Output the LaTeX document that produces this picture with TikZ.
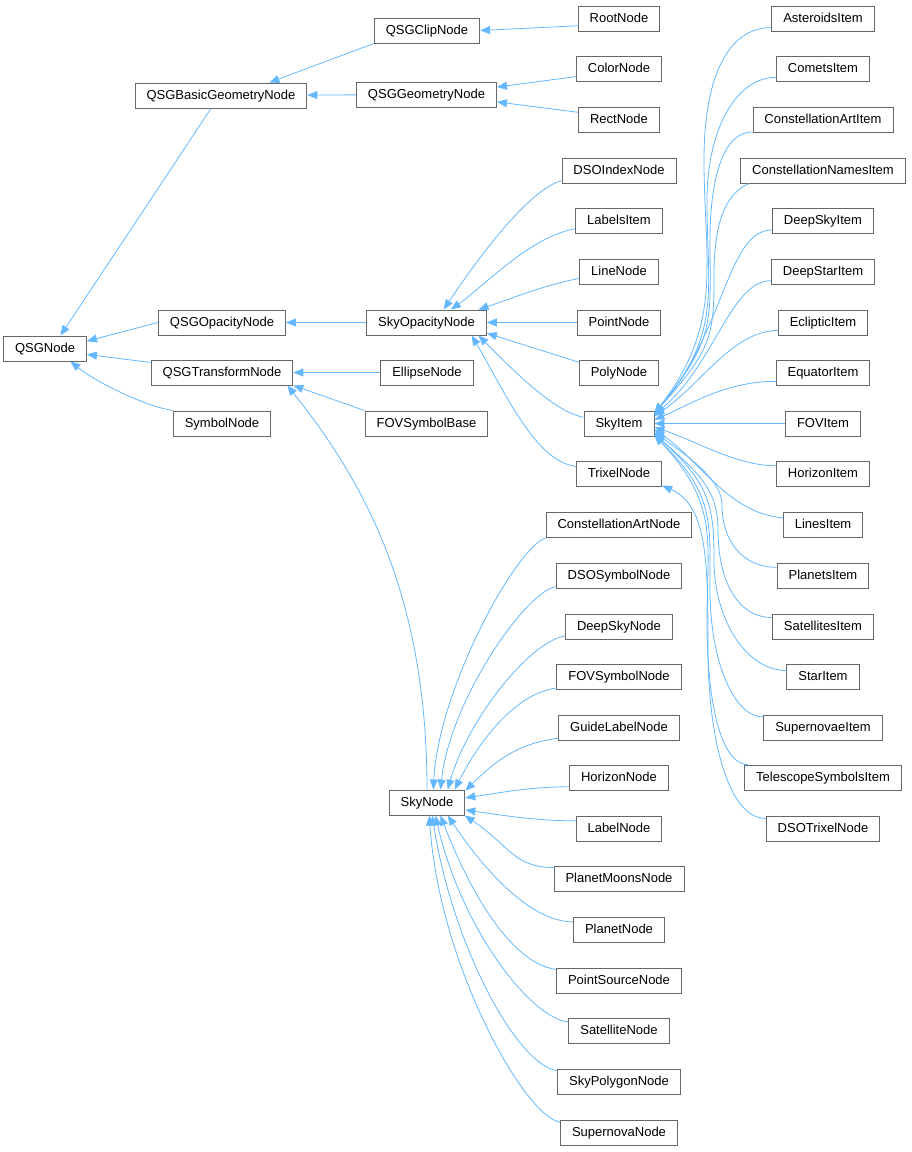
\documentclass[tikz,border=0pt]{standalone}
\usepackage{fontspec}
\setmainfont{Liberation Sans}
\usetikzlibrary{arrows.meta}
\definecolor{edgeblue}{HTML}{63B8FF}
\definecolor{boxgray}{HTML}{666666}
\tikzset{
    %Define standard arrow tip
    >={Triangle[length=10pt,width=8pt]},
    %Define style for class boxes
    klasse/.style={
           rectangle,
           draw=boxgray, line width=0.9pt,
           minimum height=25pt,
           inner xsep=11.5pt,
           text height=9.5pt, text depth=2pt,
           font=\fontsize{13}{15}\selectfont,
           text centered},
    % Define arrow style
    arv/.style={
           ->,
           draw=edgeblue,
           line width=0.8pt}
}
\begin{document}
\begin{tikzpicture}[x=1pt,y=-1pt]
\useasboundingbox (0,0) rectangle (911,1152);

 %nodes
\node[klasse] (qsg) at (45,348.5) {QSGNode};
\node[klasse] (bgn) at (221,95.5) {QSGBasicGeometryNode};
\node[klasse] (clip) at (427,30.5) {QSGClipNode};
\node[klasse] (qgeo) at (426.5,94.5) {QSGGeometryNode};
\node[klasse] (qop) at (222,322.5) {QSGOpacityNode};
\node[klasse] (qtr) at (222,372.5) {QSGTransformNode};
\node[klasse] (symn) at (222,423.5) {SymbolNode};
\node[klasse] (skyop) at (426.5,322.5) {SkyOpacityNode};
\node[klasse] (ellipse) at (427,372.5) {EllipseNode};
\node[klasse] (fovb) at (426.5,423.5) {FOVSymbolBase};
\node[klasse] (skyn) at (427,802.5) {SkyNode};

\node[klasse] (root) at (619,18.5) {RootNode};
\node[klasse] (colorn) at (619,69) {ColorNode};
\node[klasse] (rectn) at (619,119.5) {RectNode};
\node[klasse] (dsoi) at (619,170.5) {DSOIndexNode};
\node[klasse] (labelsi) at (619,221) {LabelsItem};
\node[klasse] (linen) at (619,271.5) {LineNode};
\node[klasse] (pointn) at (619,322.5) {PointNode};
\node[klasse] (polyn) at (619,373) {PolyNode};
\node[klasse] (skyi) at (619,423.5) {SkyItem};
\node[klasse] (trixel) at (619,474) {TrixelNode};
\node[klasse] (csan) at (619,525) {ConstellationArtNode};
\node[klasse] (dsosym) at (619,575.5) {DSOSymbolNode};
\node[klasse] (deepskyn) at (619,626.5) {DeepSkyNode};
\node[klasse] (fovsymn) at (619,677) {FOVSymbolNode};
\node[klasse] (guiden) at (619,727.5) {GuideLabelNode};
\node[klasse] (horn) at (619,778) {HorizonNode};
\node[klasse] (labeln) at (619,828.5) {LabelNode};
\node[klasse] (pmoons) at (619,879) {PlanetMoonsNode};
\node[klasse] (planetn) at (619,930) {PlanetNode};
\node[klasse] (psrc) at (619,980.5) {PointSourceNode};
\node[klasse] (satn) at (619,1031) {SatelliteNode};
\node[klasse] (skypoly) at (619,1081.5) {SkyPolygonNode};
\node[klasse] (supernovan) at (619,1132.5) {SupernovaNode};

\node[klasse] (ast) at (823,18.5) {AsteroidsItem};
\node[klasse] (comets) at (823,69) {CometsItem};
\node[klasse] (cart) at (823,119.5) {ConstellationArtItem};
\node[klasse] (cnam) at (823,170.5) {ConstellationNamesItem};
\node[klasse] (dsky) at (823,221) {DeepSkyItem};
\node[klasse] (dstar) at (823,271.5) {DeepStarItem};
\node[klasse] (ecl) at (823,322.5) {EclipticItem};
\node[klasse] (equ) at (823,373) {EquatorItem};
\node[klasse] (fovi) at (823,423.5) {FOVItem};
\node[klasse] (hori) at (823,474) {HorizonItem};
\node[klasse] (linesi) at (823,525) {LinesItem};
\node[klasse] (planeti) at (823,575.5) {PlanetsItem};
\node[klasse] (sati) at (823,626.5) {SatellitesItem};
\node[klasse] (stari) at (823,677) {StarItem};
\node[klasse] (supni) at (823,727.5) {SupernovaeItem};
\node[klasse] (teli) at (823,778) {TelescopeSymbolsItem};
\node[klasse] (dsotrix) at (823,828.5) {DSOTrixelNode};

 %straight edges
\path[every edge/.style=arv]
    ([xshift=-10pt]bgn.south) edge (qsg.40)
    (clip.south west) edge (bgn.15)
    (qgeo) edge (bgn)
    (root.190) edge (clip.east)
    (colorn.190) edge (qgeo.6)
    (rectn.170) edge (qgeo.-6)
    (qop.west) edge (qsg.10)
    (qtr.172) edge (qsg.-8)
    (skyop) edge (qop)
    (ellipse) edge (qtr)
    (fovb.north west) edge (qtr.south east)
    (pointn) edge (skyop)
    (polyn.165) edge (skyop.-10)
    (fovi) edge (skyi);

 %curved edges
\draw[arv] (symn.north west) .. controls +(-30,-5) and +(25,20) .. (qsg.-27);
\draw[arv] (skyn.north) .. controls +(0,-190) and +(80,100) .. ([xshift=-6pt]qtr.south east);

\draw[arv] (dsoi.190) .. controls +(-35,10) and +(30,-45) .. (skyop.37);
\draw[arv] (labelsi.190) .. controls +(-45,8) and +(35,-25) .. (skyop.28);
\draw[arv] (linen.190) .. controls +(-30,5) and +(30,-10) .. (skyop.14);
\draw[arv] (skyi.170) .. controls +(-30,-5) and +(30,30) .. (skyop.-14);
\draw[arv] (trixel.170) .. controls +(-40,-5) and +(35,60) .. (skyop.-16);

\draw[arv] (ast.190) .. controls +(-45,0) and +(0,-80) .. (704,160)
    .. controls +(0,100) and +(70,-90) .. (skyi.16);
\draw[arv] (comets.190) .. controls +(-40,0) and +(0,-70) .. (707,200)
    .. controls +(0,90) and +(68,-80) .. (skyi.16);
\draw[arv] (cart.190) .. controls +(-30,0) and +(0,-60) .. (710,240)
    .. controls +(0,80) and +(62,-75) .. (skyi.16);
\draw[arv] (cnam.190) .. controls +(-25,10) and +(0,-50) .. (714,275)
    .. controls +(0,60) and +(58,-65) .. (skyi.16);
\draw[arv] (dsky.190) .. controls +(-45,0) and +(70,-80) .. (skyi.16);
\draw[arv] (dstar.190) .. controls +(-40,0) and +(60,-50) .. (skyi.14);
\draw[arv] (ecl.190) .. controls +(-45,0) and +(45,-30) .. (skyi.12);
\draw[arv] (equ.190) .. controls +(-50,0) and +(35,-15) .. (skyi.6);

\draw[arv] (hori.170) .. controls +(-40,0) and +(45,15) .. (skyi.-6);
\draw[arv] (linesi.170) .. controls +(-55,-5) and +(45,30) .. (skyi.-10);
\draw[arv] (planeti.170) .. controls +(-35,0) and +(0,35) .. (722,505)
    .. controls +(0,-25) and +(35,25) .. (skyi.-14);
\draw[arv] (sati.170) .. controls +(-35,0) and +(0,50) .. (718,530)
    .. controls +(0,-40) and +(45,40) .. (skyi.-16);
\draw[arv] (stari.170) .. controls +(-40,0) and +(0,60) .. (714,560)
    .. controls +(0,-55) and +(55,50) .. (skyi.-16);
\draw[arv] (supni.170) .. controls +(-30,0) and +(0,70) .. (710,590)
    .. controls +(0,-70) and +(60,60) .. (skyi.-18);
\draw[arv] (teli.170) .. controls +(-30,0) and +(0,80) .. (707,620)
    .. controls +(0,-80) and +(65,70) .. (skyi.-18);
\draw[arv] (dsotrix.170) .. controls +(-40,0) and +(0,80) .. (708,650)
    .. controls +(0,-90) and +(45,20) .. (trixel.-15);

\draw[arv] (csan.190) .. controls +(-30,10) and +(5,-100) .. (skyn.64);
\draw[arv] (dsosym.190) .. controls +(-30,5) and +(10,-90) .. (skyn.44);
\draw[arv] (deepskyn.190) .. controls +(-35,5) and +(20,-70) .. (skyn.32);
\draw[arv] (fovsymn.190) .. controls +(-40,5) and +(25,-50) .. (skyn.25);
\draw[arv] (guiden.190) .. controls +(-40,5) and +(30,-30) .. (skyn.17);
\draw[arv] (horn.190) .. controls +(-40,0) and +(35,-5) .. (skyn.7);
\draw[arv] (labeln.170) .. controls +(-40,0) and +(35,5) .. (skyn.-11);
\draw[arv] (pmoons.170) .. controls +(-40,0) and +(45,30) .. (skyn.-19);
\draw[arv] (planetn.170) .. controls +(-40,0) and +(40,60) .. (skyn.-32);
\draw[arv] (psrc.170) .. controls +(-40,-5) and +(35,90) .. (skyn.-44);
\draw[arv] (satn.170) .. controls +(-40,-5) and +(25,110) .. (skyn.-57);
\draw[arv] (skypoly.170) .. controls +(-40,-5) and +(20,130) .. (skyn.-68);
\draw[arv] (supernovan.170) .. controls +(-35,-5) and +(10,150) .. (skyn.-80);
\end{tikzpicture}
\end{document}
